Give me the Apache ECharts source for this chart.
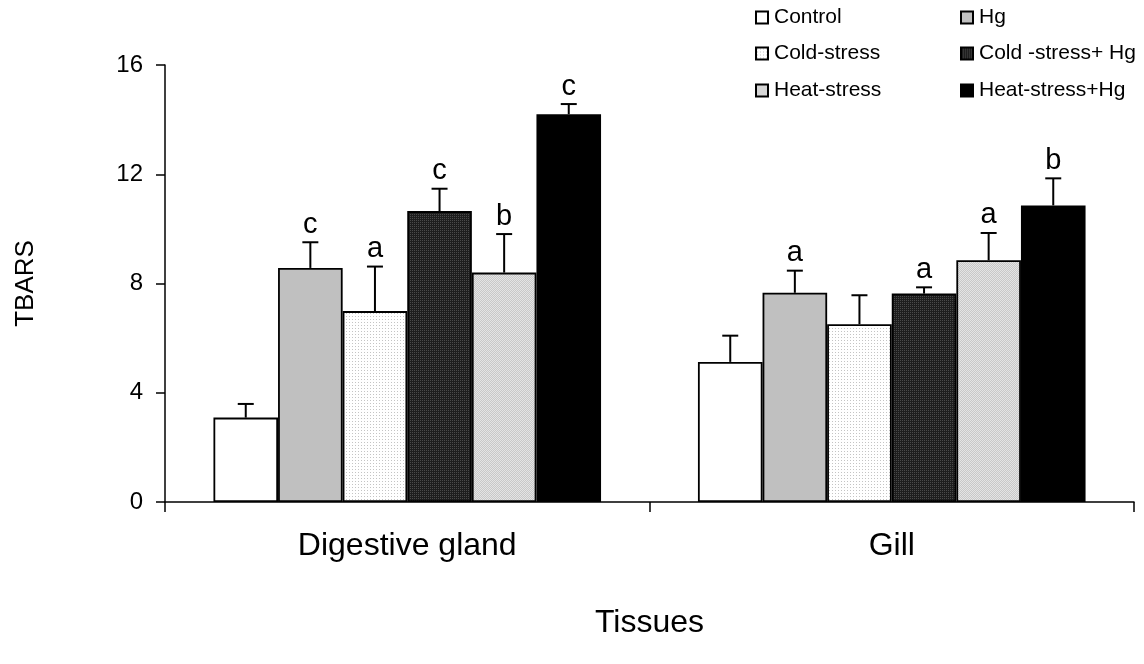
<!DOCTYPE html>
<html>
<head>
<meta charset="utf-8">
<script src="https://cdn.jsdelivr.net/npm/echarts@6/dist/echarts.min.js"></script>
<style>
html,body{margin:0;padding:0;background:#fff;}
#chart{width:1144px;height:664px;}
</style>
</head>
<body>
<div id="chart"></div>
<script>
const categories = ['Digestive gland', 'Gill'];
const seriesNames = ['Control', 'Hg', 'Cold-stress', 'Cold -stress+ Hg', 'Heat-stress', 'Heat-stress+Hg'];
const controlVals = [3.09, 5.13];
const hgVals = [8.57, 7.66];
const coldVals = [6.99, 6.51];
const coldHgVals = [10.65, 7.63];
const heatVals = [8.40, 8.85];
const heatHgVals = [14.20, 10.86];
const controlErr = [0.50, 0.96];
const hgErr = [0.94, 0.81];
const coldErr = [1.63, 1.06];
const coldHgErr = [0.82, 0.23];
const heatErr = [1.41, 1.00];
const heatHgErr = [0.37, 0.99];
const controlLetters = ['', ''];
const hgLetters = ['c', 'a'];
const coldLetters = ['a', ''];
const coldHgLetters = ['c', 'a'];
const heatLetters = ['b', 'a'];
const heatHgLetters = ['c', 'b'];
const yTicks = [0, 4, 8, 12, 16];

const allVals = [controlVals, hgVals, coldVals, coldHgVals, heatVals, heatHgVals];
const allErr = [controlErr, hgErr, coldErr, coldHgErr, heatErr, heatHgErr];
const allLetters = [controlLetters, hgLetters, coldLetters, coldHgLetters, heatLetters, heatHgLetters];

function pattern(w, h, bg, fg, pts) {
  const c = document.createElement('canvas');
  c.width = w; c.height = h;
  const g = c.getContext('2d');
  g.fillStyle = bg; g.fillRect(0, 0, w, h);
  g.fillStyle = fg;
  pts.forEach(p => g.fillRect(p[0], p[1], 1, 1));
  return { image: c, repeat: 'repeat' };
}
const fills = [
  '#ffffff',
  '#c0c0c0',
  pattern(3, 3, '#ffffff', '#c4c4c4', [[1, 1]]),
  pattern(2, 2, '#1e1e1e', '#4a4a4a', [[0, 0]]),
  pattern(2, 2, '#c8c8c8', '#e4e4e4', [[0, 0], [1, 1]]),
  '#000000'
];

const FONT = "'Liberation Sans', Arial, sans-serif";
const BAR_CAT_GAP = 0.2;
const N = seriesNames.length;

const series = [];
seriesNames.forEach((name, k) => {
  series.push({
    name: name,
    type: 'bar',
    data: allVals[k],
    barGap: '0%',
    barCategoryGap: (BAR_CAT_GAP * 100) + '%',
    itemStyle: { color: fills[k], borderColor: '#000', borderWidth: 1.8 },
    emphasis: { disabled: true },
    z: 2
  });
});
seriesNames.forEach((name, k) => {
  series.push({
    type: 'custom',
    name: name + ' err',
    data: allVals[k].map((v, i) => [i, v, allErr[k][i]]),
    encode: { x: 0, y: 1 },
    z: 5,
    silent: true,
    renderItem: function (params, api) {
      const ci = api.value(0), v = api.value(1), e = api.value(2);
      const base = api.coord([ci, v]);
      const top = api.coord([ci, v + e]);
      const band = api.size([1, 0])[0];
      const barW = band * (1 - BAR_CAT_GAP) / N;
      const x = base[0] + (k - (N - 1) / 2) * barW;
      const children = [
        { type: 'line', shape: { x1: x, y1: base[1], x2: x, y2: top[1] }, style: { stroke: '#000', lineWidth: 2 } },
        { type: 'line', shape: { x1: x - 8, y1: top[1], x2: x + 8, y2: top[1] }, style: { stroke: '#000', lineWidth: 2 } }
      ];
      const letter = allLetters[k][params.dataIndex];
      if (letter) {
        children.push({ type: 'text', x: x, y: top[1] - 3,
          style: { text: letter, fill: '#000', font: '29px ' + FONT, align: 'center', verticalAlign: 'bottom' } });
      }
      return { type: 'group', children: children };
    }
  });
});

const legendPos = [
  [755, 7], [960, 7],
  [755, 43], [960, 43],
  [755, 80], [960, 80]
];
const legends = seriesNames.map((name, k) => ({
  data: [{ name: name, icon: 'rect' }],
  left: legendPos[k][0],
  top: legendPos[k][1],
  padding: 0,
  itemWidth: 12,
  itemHeight: 12,
  itemGap: 8,
  selectedMode: false,
  itemStyle: { borderColor: '#000', borderWidth: 2 },
  textStyle: { fontFamily: FONT, fontSize: 21, color: '#000', padding: [0, 0, 0, 1] }
}));

const chart = echarts.init(document.getElementById('chart'), null, { renderer: 'canvas' });
chart.setOption({
  animation: false,
  backgroundColor: '#fff',
  textStyle: { fontFamily: FONT },
  legend: legends,
  grid: { left: 165, right: 10, top: 65, bottom: 162, containLabel: false },
  xAxis: {
    type: 'category',
    data: categories,
    name: 'Tissues',
    nameLocation: 'middle',
    nameGap: 105,
    nameTextStyle: { fontFamily: FONT, fontSize: 32, color: '#000' },
    axisLine: { lineStyle: { color: '#000', width: 1.5 } },
    axisTick: { show: true, length: 10, lineStyle: { color: '#000', width: 1.5 } },
    axisLabel: { fontFamily: FONT, fontSize: 32, color: '#000', margin: 28 },
    splitLine: { show: false }
  },
  yAxis: {
    type: 'value',
    min: yTicks[0],
    max: yTicks[yTicks.length - 1],
    interval: 4,
    name: 'TBARS',
    nameLocation: 'middle',
    nameGap: 126,
    nameTextStyle: { fontFamily: FONT, fontSize: 26, color: '#000' },
    axisLine: { show: true, lineStyle: { color: '#000', width: 1.5 } },
    axisTick: { show: true, length: 9, lineStyle: { color: '#000', width: 1.5 } },
    axisLabel: { fontFamily: FONT, fontSize: 24, color: '#000', margin: 22 },
    splitLine: { show: false }
  },
  series: series
});
</script>
</body>
</html>
